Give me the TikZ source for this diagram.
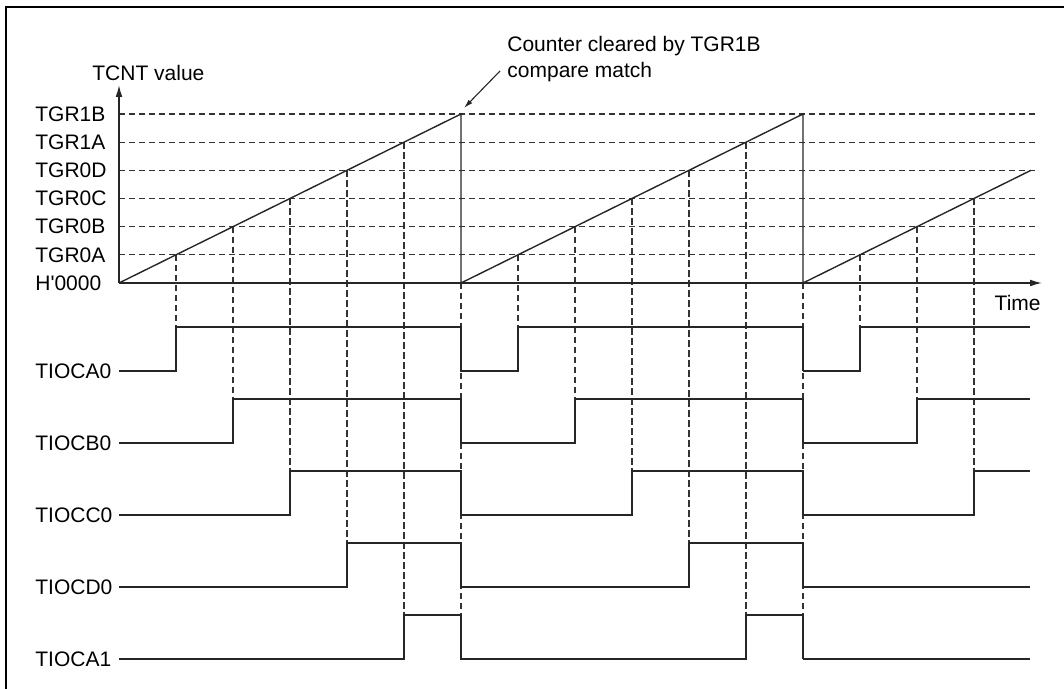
\documentclass[tikz,border=0pt]{standalone}
\usepackage{fontspec}
\setmainfont{Liberation Sans}
\usepackage{tikz}
\usetikzlibrary{arrows.meta,positioning}

\begin{document}
\begin{tikzpicture}[
		x=0.5pt, y=-0.5pt,
		every node/.style = {inner sep=0pt, font=\fontsize{10.5}{12.6}\selectfont},
		lbl/.style = {anchor=west},
		grid/.style = {draw=black!80, dash pattern=on 3.2pt off 1.8pt, line width=0.55pt},
		wave/.style = {draw=black!85, line width=0.7pt},
		axis/.style = {draw=black!85, line width=0.7pt, -{Latex[length=6pt,width=3.4pt]}},
		frame/.style = {draw=black, line width=1.3pt}
	]
	\useasboundingbox (0,0) rectangle (1064,689);
	\draw[frame] (6,689) -- (6,7) -- (1064,7);

	\coordinate (o) at (119,283);
	\foreach \k/\txt in {0/H\textquotesingle0000,1/TGR0A,2/TGR0B,3/TGR0C,4/TGR0D,5/TGR1A,6/TGR1B} {
		\node[lbl] (lv\k) at (35,283-28.17*\k) {\txt};
	}
	\foreach \k in {1,...,6}
		\draw[grid] (o |- lv\k) -- (1037,283-28.17*\k);

	\foreach \s in {1,...,5} {
		\pgfmathsetmacro\hi{327+72*(\s-1)}
		\foreach \x in {119,461}
			\draw[grid] (\x+57*\s,283-28.17*\s) -- (\x+57*\s,\hi);
		\ifnum\s<4 \draw[grid] (803+57*\s,283-28.17*\s) -- (803+57*\s,\hi); \fi
	}
	\draw[grid] (461,283) -- (461,659);
	\draw[grid] (803,283) -- (803,659);

	\draw[axis] (o) -- (119,85) coordinate (ytop);
	\node[anchor=west] (yname) at (92,73) {TCNT value};
	\draw[axis] (o) -- (1042,283) coordinate (xend);
	\node[anchor=east] (tname) at (1041,303) {Time};

	\coordinate (peak) at (461,114);
	\draw[wave] (o) -- (peak) -- (461,283) -- (803,114) -- (803,283) -- (1031,170.3);

	\node[anchor=west, align=left] (note) at (507,59) {Counter cleared by TGR1B\\compare match};
	\draw[draw=black!85, line width=0.55pt, -{Latex[length=4.5pt,width=2.5pt]}] ([xshift=-3.5pt,yshift=-6pt]note.west) -- ([xshift=1.5pt,yshift=3pt]peak);

	\foreach \n [count=\s] in {TIOCA0,TIOCB0,TIOCC0,TIOCD0,TIOCA1} {
		\pgfmathsetmacro\lo{371+72*(\s-1)}
		\pgfmathsetmacro\hi{\lo-44}
		\node[lbl] (sg\s) at (35,\lo) {\n};
		\draw[wave] (o |- sg\s) -- (119+57*\s,\lo) -- (119+57*\s,\hi) -- (461,\hi) -- (461,\lo)
			-- (461+57*\s,\lo) -- (461+57*\s,\hi) -- (803,\hi) -- (803,\lo);
		\ifnum\s<4
			\draw[wave] (803,\lo) -- (803+57*\s,\lo) -- (803+57*\s,\hi) -- (1030,\hi);
		\else
			\draw[wave] (803,\lo) -- (1030,\lo);
		\fi
	}
\end{tikzpicture}
\end{document}
